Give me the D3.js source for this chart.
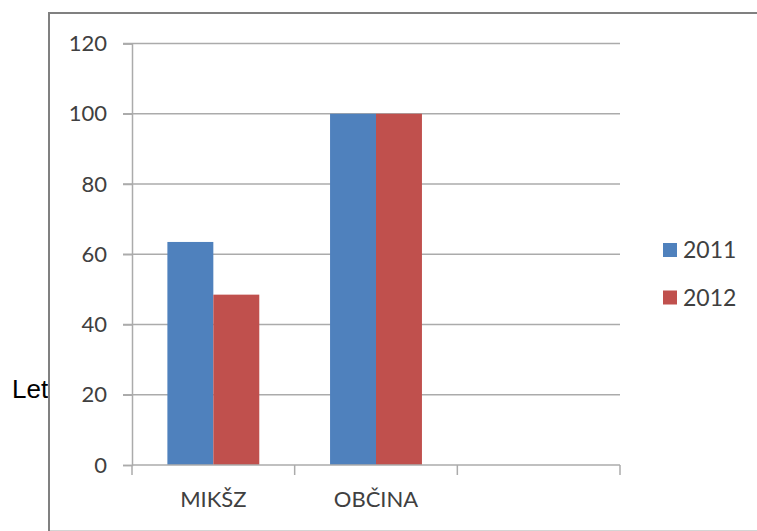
<!doctype html>
<html>
<head>
<meta charset="utf-8">
<style>
  body { margin: 0; background: #fff; }
  svg { display: block; }
</style>
</head>
<body>
<script src="https://d3js.org/d3.v7.min.js"></script>
<script>
  // data
  var categories = ["MIKŠZ", "OBČINA", ""];
  var seriesNames = ["2011", "2012"];
  var values2011 = [63.5, 100, null];
  var values2012 = [48.5, 100, null];
  var yTicks = [0, 20, 40, 60, 80, 100, 120];
  var colors = ["#4F81BD", "#C0504D"];

  var width = 757, height = 531;
  var svg = d3.select("body").append("svg").attr("width", width).attr("height", height);

  // stray label left of the chart box
  svg.append("text")
    .attr("x", 12).attr("y", 398)
    .style("font-family", "'Liberation Sans', Arial, sans-serif")
    .style("font-size", "26px")
    .attr("fill", "#000")
    .text("Let");

  // chart box
  svg.append("rect")
    .attr("x", 50).attr("y", 14).attr("width", 760).attr("height", 516)
    .attr("fill", "#fff");
  svg.append("line").attr("x1", 49).attr("x2", 49).attr("y1", 12).attr("y2", 531)
    .attr("stroke", "#808080").attr("stroke-width", 2);
  svg.append("line").attr("x1", 48).attr("x2", 757).attr("y1", 13).attr("y2", 13)
    .attr("stroke", "#808080").attr("stroke-width", 2);
  svg.append("line").attr("x1", 50).attr("x2", 757).attr("y1", 530.5).attr("y2", 530.5)
    .attr("stroke", "#d4d4d4").attr("stroke-width", 1);

  var x0 = d3.scaleBand().domain(categories).range([132, 620]).padding(0);
  var x1 = d3.scaleBand().domain(seriesNames).range([0, x0.bandwidth()])
    .paddingInner(0).paddingOuter(0.77);
  var y = d3.scaleLinear().domain([0, 120]).range([465, 43.5]);

  var font = "Lato, 'Open Sans', sans-serif";
  var gridColor = "#ababab";

  // gridlines
  svg.append("g").selectAll("line").data(yTicks.filter(function(d){ return d > 0; })).enter()
    .append("line")
    .attr("x1", 123).attr("x2", 620)
    .attr("y1", function(d){ return y(d); }).attr("y2", function(d){ return y(d); })
    .attr("stroke", gridColor).attr("stroke-width", 1.5);

  // y axis
  var yAxis = svg.append("g")
    .attr("transform", "translate(132,0)")
    .call(d3.axisLeft(y).tickValues(yTicks).tickSize(9).tickPadding(16));
  yAxis.select(".domain").attr("stroke", gridColor).attr("stroke-width", 1.5);
  yAxis.selectAll(".tick line").attr("stroke", gridColor).attr("stroke-width", 1.5);
  yAxis.selectAll(".tick text")
    .style("font-family", font).style("font-size", "22px").attr("fill", "#404040");

  // bars
  var seriesValues = [values2011, values2012];
  var rows = [];
  categories.forEach(function(c, i){
    seriesNames.forEach(function(s, j){
      if (seriesValues[j][i] != null) rows.push({ cat: c, series: s, idx: j, value: seriesValues[j][i] });
    });
  });
  svg.append("g").selectAll("rect").data(rows).enter()
    .append("rect")
    .attr("x", function(d){ return x0(d.cat) + x1(d.series); })
    .attr("width", x1.bandwidth())
    .attr("y", function(d){ return y(d.value); })
    .attr("height", function(d){ return y(0) - y(d.value); })
    .attr("fill", function(d){ return colors[d.idx]; });

  // x axis
  var xAxis = svg.append("g").attr("transform", "translate(0,465)");
  xAxis.append("line").attr("x1", 132).attr("x2", 620).attr("y1", 0).attr("y2", 0)
    .attr("stroke", gridColor).attr("stroke-width", 1.5);
  var boundaries = categories.map(function(c){ return x0(c); }).concat([x0.range()[1]]);
  xAxis.selectAll(".xt").data(boundaries).enter()
    .append("line").attr("class", "xt")
    .attr("x1", function(d){ return d; }).attr("x2", function(d){ return d; })
    .attr("y1", 0).attr("y2", 10)
    .attr("stroke", gridColor).attr("stroke-width", 1.5);
  xAxis.selectAll(".xl").data(categories).enter()
    .append("text").attr("class", "xl")
    .attr("x", function(d){ return x0(d) + x0.bandwidth() / 2; })
    .attr("y", 42)
    .attr("text-anchor", "middle")
    .style("font-family", font).style("font-size", "22px").attr("fill", "#404040")
    .text(function(d){ return d; });

  // legend
  var legend = svg.append("g").selectAll("g").data(seriesNames).enter()
    .append("g")
    .attr("transform", function(d, i){ return "translate(663," + (250 + i * 47.5) + ")"; });
  legend.append("rect").attr("x", 0).attr("y", -7).attr("width", 14).attr("height", 14)
    .attr("fill", function(d, i){ return colors[i]; });
  legend.append("text").attr("x", 20).attr("y", 0).attr("dy", "0.36em")
    .style("font-family", font).style("font-size", "23px").attr("fill", "#404040")
    .text(function(d){ return d; });
</script>
</body>
</html>
